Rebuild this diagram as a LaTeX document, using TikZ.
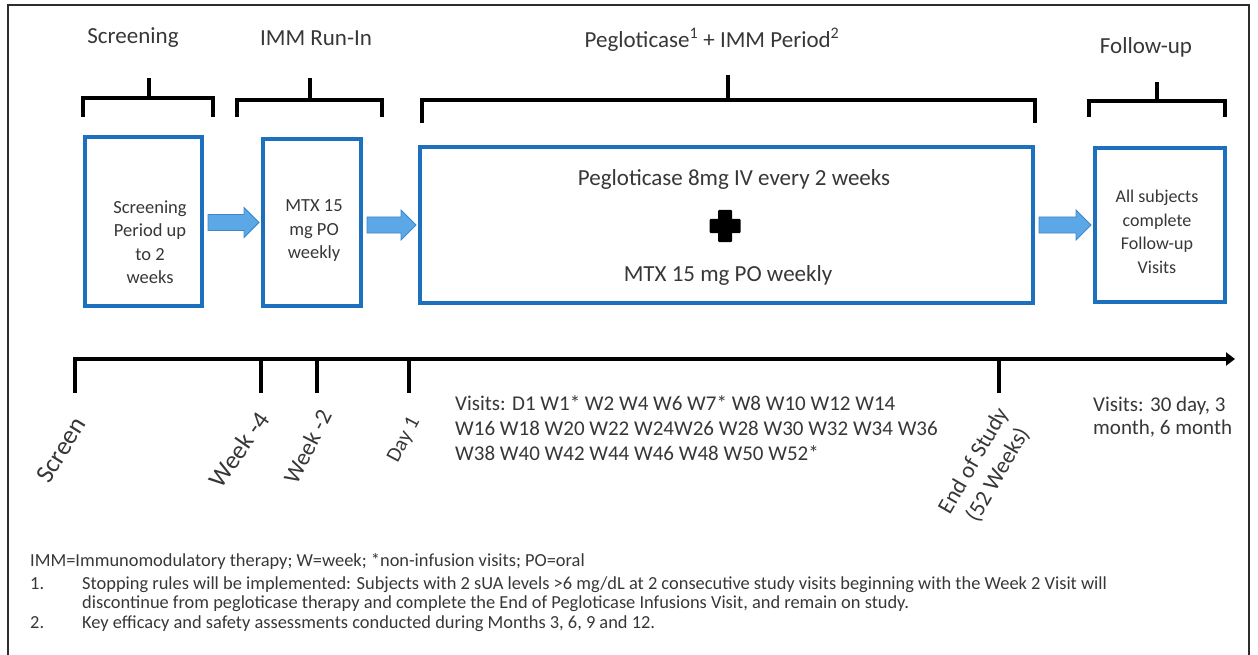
\documentclass[tikz,border=0pt]{standalone}
\usepackage{fontspec}
\setmainfont{Carlito}
\usetikzlibrary{arrows.meta,calc}
\definecolor{boxblue}{RGB}{28,112,190}
\definecolor{arrowfill}{RGB}{92,168,230}
\definecolor{arrowline}{RGB}{60,135,205}
\definecolor{ink}{RGB}{55,55,55}
\definecolor{framegray}{RGB}{45,45,45}
\newcommand\fs[2]{\fontsize{#1}{#2}\selectfont}
% block arrow between two phase boxes
\newcommand\blockarrow[2]{%
  \draw[flowarrow] let \p1=(#1.east), \p2=(#2.west) in
    (\x1+4,\y2+8) -- (\x2-17,\y2+8) -- (\x2-17,\y2+15) -- (\x2-2,\y2) --
    (\x2-17,\y2-15) -- (\x2-17,\y2-8) -- (\x1+4,\y2-8) -- cycle;}
\begin{document}
\begin{tikzpicture}[x=1pt,y=-1pt,
  head/.style={text=ink,font=\fs{23}{27},inner sep=0pt},
  phasebox/.style={draw=boxblue,line width=4pt,inner sep=0pt},
  brack/.style={line width=3.6pt,line join=miter},
  tline/.style={line width=4pt,line join=miter},
  boxtxt/.style={text=ink,font=\fs{18.5}{23.5},align=center,inner sep=0pt},
  ticklbl/.style={text=ink,anchor=east,inner sep=0pt},
  visits/.style={text=ink,font=\fs{21}{25},align=left,inner sep=0pt,anchor=north west},
  foot/.style={text=ink,font=\fs{18.4}{19},inner sep=0pt},
  flowarrow/.style={fill=arrowfill,draw=arrowline,line width=0.8pt,line join=miter}]
\useasboundingbox (0,0) rectangle (1258,655);

% outer frame
\draw[framegray,line width=2pt] (8,662) -- (8,5) -- (1249,5) -- (1249,662);

% phase headings
\node[head] (hScr) at (133,38) {Screening};
\node[head] (hImm) at (316,38) {IMM Run-In};
\node[head] (hPeg) at (712,40) {Pegloticase\textsuperscript{1} + IMM Period\textsuperscript{2}};
\node[head] (hFol) at (1146,47) {Follow-up};

% brackets under the headings
\draw[brack] (83,117) -- (83,98) -- (213,98) -- (213,117);
\draw[brack] (149,98) -- (149,78);
\draw[brack] (237,117) -- (237,100) -- (382,100) -- (382,117);
\draw[brack] (310,100) -- (310,78);
\draw[brack] (422,123) -- (422,100) -- (1035,100) -- (1035,123);
\draw[brack] (728,100) -- (728,75);
\draw[brack] (1089,117) -- (1089,101) -- (1225,101) -- (1225,117);
\draw[brack] (1157,101) -- (1157,82);

% phase boxes
\node[phasebox,minimum width=117pt,minimum height=169pt] (b1) at (143.5,221.5) {};
\node[phasebox,minimum width=98pt,minimum height=167pt] (b2) at (312,222.5) {};
\node[phasebox,minimum width=613pt,minimum height=156pt] (b3) at (726.5,225) {};
\node[phasebox,minimum width=130pt,minimum height=154pt] (b4) at (1160,225) {};

\node[boxtxt] (t1) at ($(b1.center)+(6.5,20.5)$) {Screening\\Period up\\to 2\\weeks};
\node[boxtxt] (t2) at ($(b2.center)+(2,8.5)$) {MTX 15\\mg PO\\weekly};
\node[boxtxt,font=\fs{18}{23.5}] (t4) at ($(b4.center)+(-3,7)$) {All subjects\\complete\\Follow-up\\Visits};
\node[head] (t3a) at ($(b3.center)+(7.5,-46)$) {Pegloticase 8mg IV every 2 weeks};
\node[head] (t3b) at ($(b3.center)+(1.5,50)$) {MTX 15 mg PO weekly};
\coordinate (plus) at ($(b3.center)+(-1.5,1)$);
\fill[black,rounded corners=1pt] ($(plus)+(-15.5,-7)$) rectangle ($(plus)+(15.5,7)$);
\fill[black,rounded corners=1pt] ($(plus)+(-7,-16)$) rectangle ($(plus)+(7,16)$);

% flow between phases
\blockarrow{b1}{b2}
\blockarrow{b2}{b3}
\blockarrow{b3}{b4}

% timeline
\coordinate (tStart) at (75,393);
\coordinate (tCorner) at (75,359);
\coordinate (tEnd) at (1235,359);
\draw[tline,-{Triangle[length=9pt,width=13pt]}] (tStart) -- (tCorner) -- (tEnd);
\coordinate (tW4) at (261,359);
\coordinate (tW2) at (317,359);
\coordinate (tD1) at (409,359);
\coordinate (tEos) at (999,359);
\draw[tline] (tW4) -- ++(0,34);
\draw[tline] (tW2) -- ++(0,34);
\draw[tline] (tD1) -- ++(0,34);
\draw[tline] (tEos) -- ++(0,34);

\node[ticklbl,rotate=58,font=\fs{26}{30}] (lScr) at (80,419.5) {Screen};
\node[ticklbl,rotate=55,font=\fs{25.5}{30}] (lW4) at (263.5,414.5) {Week -4};
\node[ticklbl,rotate=63,font=\fs{23.5}{28}] (lW2) at (325.5,411.5) {Week -2};
\node[ticklbl,rotate=62,font=\fs{21}{25}] (lD1) at (415.5,419) {Day 1};
\node[text=ink,rotate=60,align=center,font=\fs{23}{28},inner sep=0pt] (lEos) at (986,468) {End of Study\\(52 Weeks)};

\node[visits] (vStudy) at (455,395) {Visits: D1 W1* W2 W4 W6 W7* W8 W10 W12 W14\\W16 W18 W20 W22 W24W26 W28 W30 W32 W34 W36\\W38 W40 W42 W44 W46 W48 W50 W52*};
\node[visits,font=\fs{21}{23}] (vFol) at (1093,397) {Visits: 30 day, 3\\month, 6 month};

% footnotes (a multi-line node sits on the baseline of its last line)
\node[foot,anchor=base west] (fKey) at (30,566.5) {IMM=Immunomodulatory therapy; W=week; *non-infusion visits; PO=oral};
\node[foot,anchor=base west] (f1n) at (30,589.5) {1.};
\node[foot,anchor=base west,align=left] (f1) at (82,608.5) {Stopping rules will be implemented: Subjects with 2 sUA levels >6 mg/dL at 2 consecutive study visits beginning with the Week 2 Visit will\\discontinue from pegloticase therapy and complete the End of Pegloticase Infusions Visit, and remain on study.};
\node[foot,anchor=base west] (f2n) at (30,628.5) {2.};
\node[foot,anchor=base west] (f2) at (82,628.5) {Key efficacy and safety assessments conducted during Months 3, 6, 9 and 12.};
\end{tikzpicture}
\end{document}
